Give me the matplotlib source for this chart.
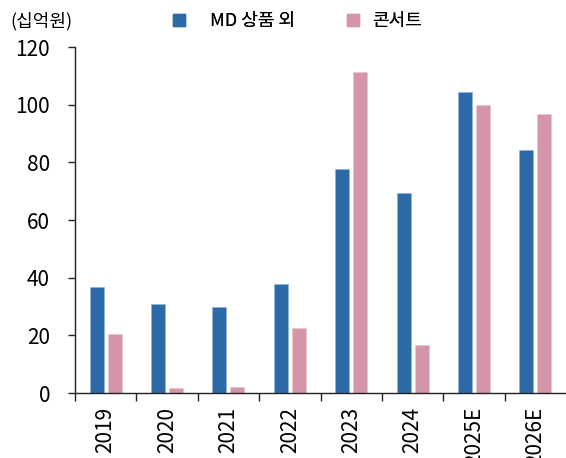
import matplotlib
matplotlib.use("Agg")
import matplotlib.pyplot as plt
from matplotlib.lines import Line2D
import numpy as np

plt.rcParams['font.family'] = ['Liberation Sans Narrow', 'Noto Sans CJK KR', 'DejaVu Sans']
plt.rcParams['font.weight'] = 'normal'

categories = ['2019', '2020', '2021', '2022', '2023', '2024', '2025E', '2026E']
md_values = [36.9, 31.0, 29.9, 37.9, 77.7, 69.4, 104.5, 84.4]
concert_values = [20.5, 1.7, 2.0, 22.5, 111.3, 16.6, 99.9, 96.8]
series_names = ['MD 상품 외', '콘서트']
yticks = [0, 20, 40, 60, 80, 100, 120]

blue = '#2C6BA7'
pink = '#D494A9'

fig = plt.figure(figsize=(5.66, 4.58), dpi=100)
ax = fig.add_axes([75/566, 65/458, 1 - 75/566, (393-47)/458])

x = np.arange(len(categories))
w = 0.228
off = 0.147
ax.bar(x - off, md_values, width=w, color=blue, edgecolor='#8FB3D6', linewidth=0.4)
ax.bar(x + off, concert_values, width=w, color=pink, edgecolor='#EBC3CF', linewidth=0.4)

ax.set_xlim(-0.5, len(categories) - 0.5)
ax.set_ylim(0, 120)
ax.set_yticks(yticks)
ax.set_xticks(x)
ax.set_xticklabels(categories, rotation=90, fontsize=15)
ax.set_xticks(np.arange(len(categories)) - 0.5, minor=True)
ax.tick_params(axis='x', which='major', length=0, pad=10)
ax.tick_params(axis='x', which='minor', length=6, width=1, color='#222222')
ax.tick_params(axis='y', length=5, width=1, labelsize=15, pad=13, color='#222222')

for s in ['top', 'right']:
    ax.spines[s].set_visible(False)
for s in ['left', 'bottom']:
    ax.spines[s].set_color('#222222')
    ax.spines[s].set_linewidth(1)

fig.text(10/566, 1 - 21/458, '(십억원)', fontsize=13, va='center', ha='left',
         family=['Noto Sans CJK KR', 'DejaVu Sans'], fontweight='normal')

colors = [blue, pink]
anchors_x = [170/566, 344/566]
text_pads = [1.24, 0.57]
for name, c, ax_x, tp in zip(series_names, colors, anchors_x, text_pads):
    h = Line2D([], [], marker='s', linestyle='none', color=c, markersize=8)
    leg = fig.legend([h], [name], loc='center left', bbox_to_anchor=(ax_x, 1 - 21/458),
                     frameon=False, handletextpad=tp, handlelength=1.0,
                     borderpad=0, borderaxespad=0,
                     prop={'family': ['Noto Sans CJK KR', 'DejaVu Sans'], 'size': 13,
                           'weight': 'normal'})
    fig.add_artist(leg)

fig.savefig('out.png', dpi=100)
